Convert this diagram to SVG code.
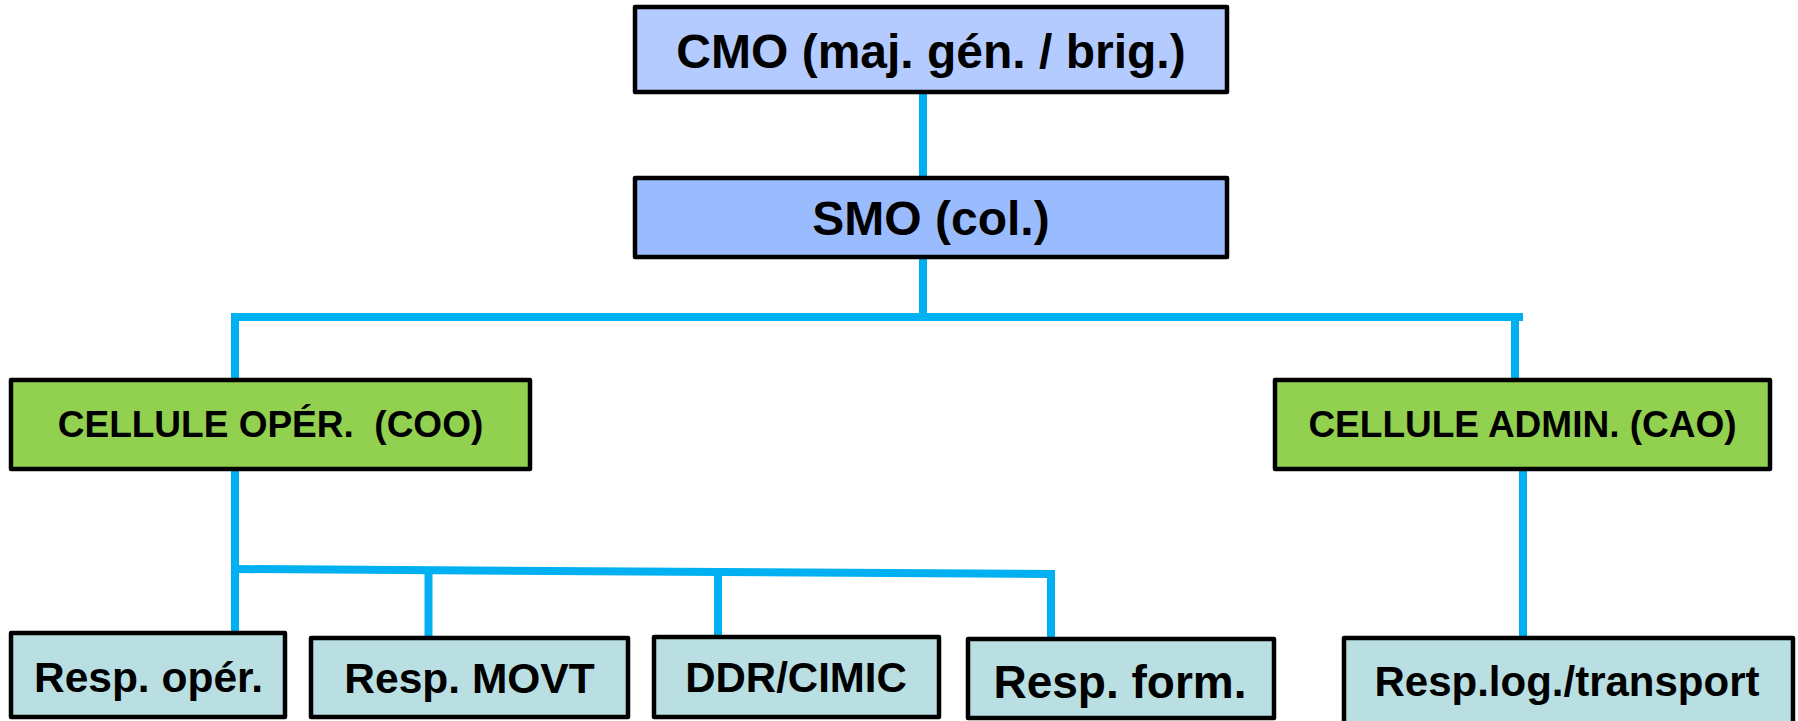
<svg xmlns="http://www.w3.org/2000/svg" width="1798" height="721" viewBox="0 0 1798 721">
<style>
.box{stroke:#000;stroke-width:4.5;stroke-linejoin:round}
.t{font-family:"Liberation Sans",Arial,sans-serif;font-weight:bold;fill:#000;text-anchor:middle}
.c{stroke:#00B0F0;stroke-width:8;fill:none;stroke-linecap:butt;stroke-linejoin:miter}
</style>
<rect width="1798" height="721" fill="#fff"/>
<g id="connectors">
<line class="c" x1="923" y1="92" x2="923" y2="178"/>
<line class="c" x1="923" y1="257" x2="923" y2="317"/>
<polyline class="c" points="235,380 235,317 1515,317 1515,380"/>
<line class="c" x1="1515" y1="317" x2="1523" y2="317"/>
<line class="c" x1="235" y1="469" x2="235" y2="635"/>
<polyline class="c" points="235,569 1051,574 1051,639"/>
<line class="c" x1="428.5" y1="571" x2="428.5" y2="638"/>
<line class="c" x1="718" y1="573" x2="718" y2="637"/>
<line class="c" x1="1523" y1="469" x2="1523" y2="638"/>
</g>
<g id="cmo">
<rect class="box" x="635" y="7" width="592" height="85" fill="#B3CBFF"/>
<text class="t" x="931" y="68" font-size="48">CMO (maj. gén. / brig.)</text>
</g>
<g id="smo">
<rect class="box" x="635" y="178" width="592" height="79" fill="#9BBBFF"/>
<text class="t" x="931" y="235" font-size="48">SMO (col.)</text>
</g>
<g id="coo">
<rect class="box" x="11" y="380" width="519" height="89" fill="#92D050"/>
<text class="t" x="270.5" y="437" font-size="37">CELLULE OPÉR.&#160; (COO)</text>
</g>
<g id="cao">
<rect class="box" x="1275" y="380" width="495" height="89" fill="#92D050"/>
<text class="t" x="1522.5" y="437" font-size="37">CELLULE ADMIN. (CAO)</text>
</g>
<g id="resp-oper">
<rect class="box" x="11" y="633" width="274" height="84" fill="#B9DFE2"/>
<text class="t" x="148.5" y="692" font-size="42.5">Resp. opér.</text>
</g>
<g id="resp-movt">
<rect class="box" x="311" y="638" width="317" height="79" fill="#B9DFE2"/>
<text class="t" x="469.5" y="693" font-size="42.5">Resp. MOVT</text>
</g>
<g id="ddr-cimic">
<rect class="box" x="654" y="637" width="285" height="80" fill="#B9DFE2"/>
<text class="t" x="796" y="692" font-size="42">DDR/CIMIC</text>
</g>
<g id="resp-form">
<rect class="box" x="968" y="639" width="306" height="79" fill="#B9DFE2"/>
<text class="t" x="1120" y="698" font-size="46">Resp. form.</text>
</g>
<g id="resp-log">
<rect class="box" x="1344" y="638" width="449" height="90" fill="#B9DFE2"/>
<text class="t" x="1567" y="696" font-size="42">Resp.log./transport</text>
</g>
</svg>
